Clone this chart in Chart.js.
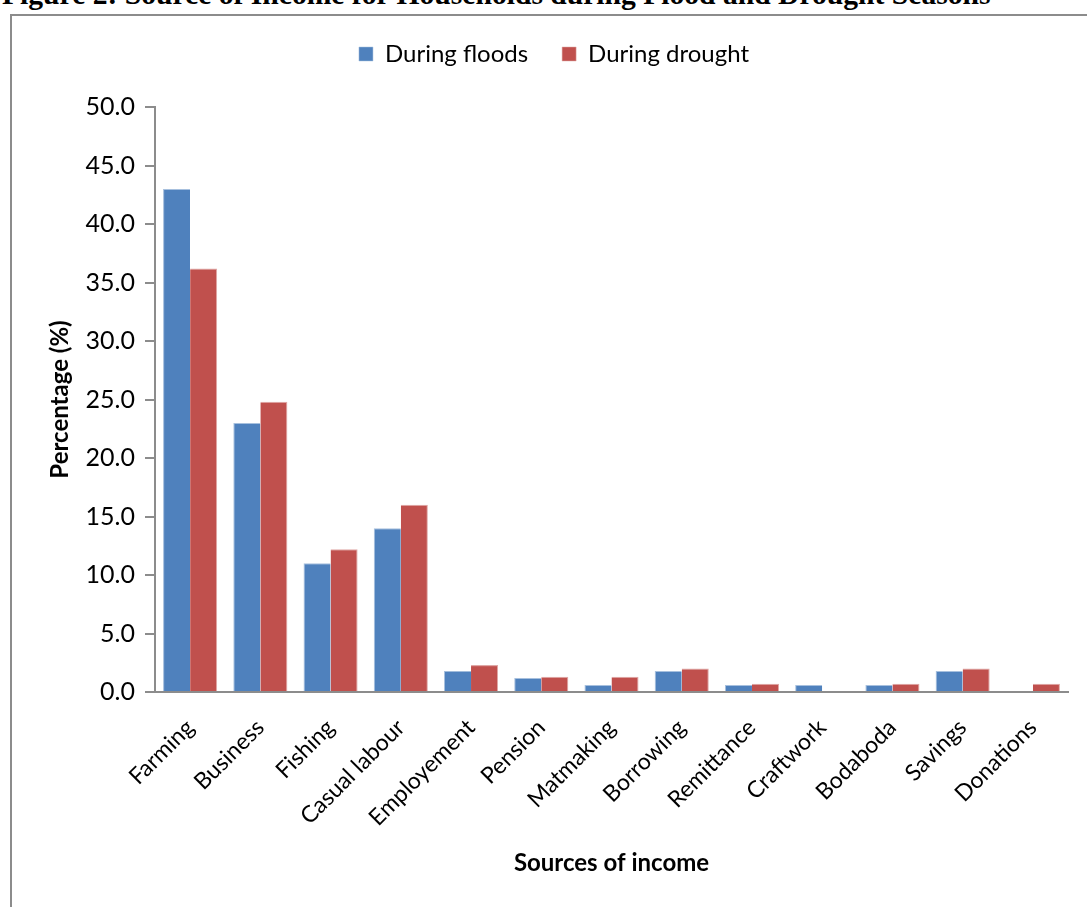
<!DOCTYPE html>
<html>
<head>
<meta charset="utf-8">
<script src="https://cdn.jsdelivr.net/npm/chart.js@4.4.0/dist/chart.umd.min.js"></script>
<style>
  html, body { margin: 0; padding: 0; background: #fff; overflow: hidden; }
  #wrap { position: relative; width: 1087px; height: 907px; }
  #fig { position: absolute; left: 2px; top: -21px; font: bold 29.6px "Liberation Serif", "Times New Roman", serif; line-height: 30px; white-space: nowrap; color: #000; }
  #frame { position: absolute; left: 10px; top: 14px; width: 1100px; height: 920px; border: 2px solid #8c8c8c; box-sizing: border-box; }
  #c { position: absolute; left: 0; top: 0; }
</style>
</head>
<body>
<div id="wrap">
  <div id="fig">Figure 2: Source of Income for Households during Flood and Drought Seasons</div>
  <div id="frame"></div>
  <canvas id="c" width="1087" height="907"></canvas>
</div>
<script>
// categories and values
var sources = ['Farming', 'Business', 'Fishing', 'Casual labour', 'Employement', 'Pension',
    'Matmaking', 'Borrowing', 'Remittance', 'Craftwork', 'Bodaboda', 'Savings', 'Donations'];
var floods = [43.0, 23.0, 11.0, 14.0, 1.8, 1.2, 0.6, 1.8, 0.6, 0.6, 0.6, 1.8, 0];
var drought = [36.2, 24.8, 12.2, 16.0, 2.3, 1.3, 1.3, 2.0, 0.7, 0, 0.7, 2.0, 0.7];

var font = 'Lato, "Open Sans", sans-serif';

// push the plot area down below the legend
var legendSpace = {
    id: 'legendSpace',
    beforeInit: function (chart) {
        var fit = chart.legend.fit;
        chart.legend.fit = function () {
            fit.bind(chart.legend)();
            this.height = 99;
        };
    }
};

var ctx = document.getElementById('c').getContext('2d');
var chart = new Chart(ctx, {
    type: 'bar',
    data: {
        labels: sources,
        datasets: [{
            label: 'During floods',
            data: floods,
            backgroundColor: '#4f81bd',
            borderColor: '#a7c0de',
            borderWidth: { top: 1, left: 1, right: 0, bottom: 0 },
            categoryPercentage: 0.77,
            barPercentage: 1.0
        }, {
            label: 'During drought',
            data: drought,
            backgroundColor: '#c0504d',
            borderColor: '#dfa8a6',
            borderWidth: { top: 1, left: 0, right: 1, bottom: 0 },
            categoryPercentage: 0.77,
            barPercentage: 1.0
        }]
    },
    options: {
        responsive: false,
        animation: false,
        layout: { padding: { left: 40, right: 19, top: 8, bottom: 25 } },
        plugins: {
            tooltip: { enabled: false },
            legend: {
                position: 'top',
                labels: {
                    boxWidth: 14,
                    boxHeight: 14,
                    padding: 34,
                    color: '#000',
                    font: { family: font, size: 24 }
                }
            }
        },
        scales: {
            x: {
                grid: { display: false },
                border: { display: true, color: '#8c8c8c', width: 2 },
                ticks: {
                    color: '#000',
                    font: { family: font, size: 23 },
                    minRotation: 45,
                    maxRotation: 45,
                    padding: 14
                },
                title: {
                    display: true,
                    text: 'Sources of income',
                    color: '#000',
                    font: { family: font, size: 24, weight: 'bold' },
                    padding: 4
                },
                afterFit: function (s) { s.height = 190; }
            },
            y: {
                min: 0,
                max: 50,
                grid: { display: true, drawOnChartArea: false, drawTicks: true, tickLength: 10, color: '#8c8c8c', lineWidth: 2 },
                border: { display: true, color: '#8c8c8c', width: 2 },
                ticks: {
                    stepSize: 5,
                    color: '#000',
                    padding: 10,
                    font: { family: font, size: 25 },
                    callback: function (v) { return v.toFixed(1); }
                },
                title: {
                    display: true,
                    text: 'Percentage (%)',
                    color: '#000',
                    font: { family: font, size: 24, weight: 'bold' },
                    padding: 6
                },
                afterFit: function (s) { s.width = 115; }
            }
        }
    },
    plugins: [legendSpace]
});
</script>
</body>
</html>
